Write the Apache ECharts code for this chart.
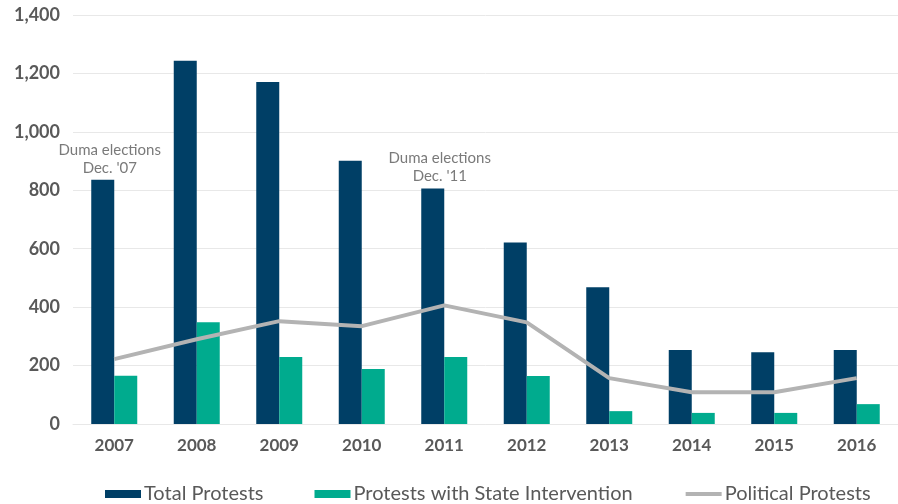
<!DOCTYPE html>
<html><head><meta charset="utf-8">
<script src="https://cdn.jsdelivr.net/npm/echarts@6/dist/echarts.min.js"></script>
<style>html,body{margin:0;padding:0;background:#fff}#c{width:898px;height:504px}</style>
</head><body><div id="c"></div>
<script>
const years = ['2007','2008','2009','2010','2011','2012','2013','2014','2015','2016'];
const totalProtests = [836, 1243, 1171, 901, 806, 621, 468, 253, 246, 253];
const stateIntervention = [165, 348, 229, 188, 229, 164, 44, 38, 38, 68];
const politicalProtests = [222, 290, 352, 335, 406, 348, 157, 109, 109, 157];
const yTicks = [0, 200, 400, 600, 800, 1000, 1200, 1400];
const annotations = {'2007': "Duma elections\nDec. '07", '2011': "Duma elections\nDec. '11"};

const font = 'Lato';
const chart = echarts.init(document.getElementById('c'));
const totalData = totalProtests.map((v, i) => {
  const a = annotations[years[i]];
  if (!a) return v;
  return {value: v, label: {show: true, position: 'top', distance: 3, offset: [7, 0],
    formatter: a, color: '#7a7a7a', fontSize: 15, lineHeight: 18, fontFamily: font}};
});
chart.setOption({
  animation: false,
  textStyle: {fontFamily: font},
  grid: {left: 73, top: 15, width: 834, bottom: 80, containLabel: false},
  legend: {
    left: 100, top: 479, itemWidth: 36, itemHeight: 8, itemGap: 51,
    textStyle: {fontSize: 20, color: '#595959', fontFamily: font, padding: [0, 0, 0, -2]},
    data: [
      {name: 'Total Protests', icon: 'rect'},
      {name: 'Protests with State Intervention', icon: 'rect'},
      {name: 'Political Protests', itemStyle: {opacity: 0}, lineStyle: {width: 4, color: '#b3b3b3'}}
    ]
  },
  xAxis: {
    type: 'category', data: years,
    axisLine: {show: true, lineStyle: {color: '#e8e8e8'}}, axisTick: {show: false},
    axisLabel: {fontSize: 17, fontWeight: 'bold', color: '#595959', margin: 13, fontFamily: font}
  },
  yAxis: {
    type: 'value', min: 0, max: 1400, interval: 200,
    axisLine: {show: false}, axisTick: {show: false},
    splitLine: {lineStyle: {color: '#e8e8e8'}},
    axisLabel: {fontSize: 18, fontWeight: 'bold', color: '#595959', margin: 13, fontFamily: font,
      formatter: v => yTicks.includes(v) ? v.toLocaleString('en-US') : ''}
  },
  series: [
    {name: 'Total Protests', type: 'bar', data: totalData, barWidth: 23, barGap: '0%',
     itemStyle: {color: '#003f66'}},
    {name: 'Protests with State Intervention', type: 'bar', data: stateIntervention, barWidth: 23, barGap: '0%',
     itemStyle: {color: '#00ab8e'}},
    {name: 'Political Protests', type: 'line', data: politicalProtests, symbol: 'none',
     lineStyle: {color: '#b3b3b3', width: 4}, itemStyle: {color: '#b3b3b3'}}
  ]
});
</script></body></html>
